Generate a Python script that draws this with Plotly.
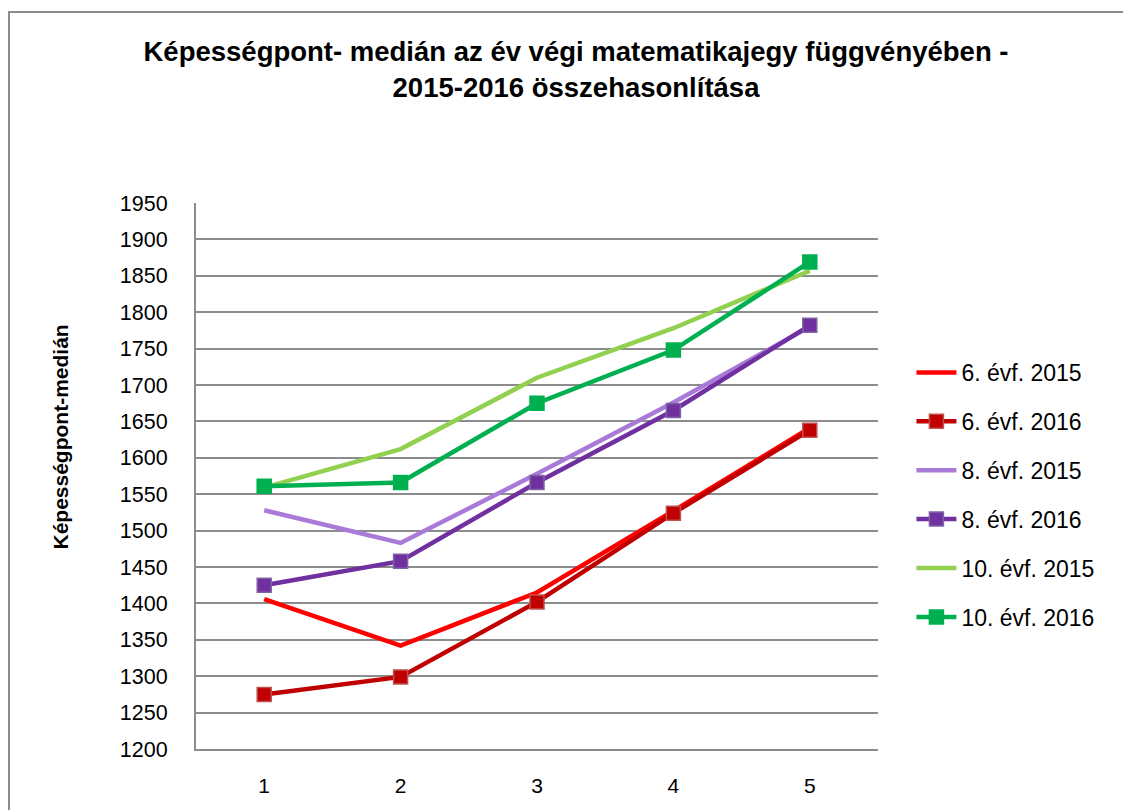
import plotly.graph_objects as go

# Képességpont-medián az év végi matematikajegy függvényében
grades = ['1', '2', '3', '4', '5']

evf6_2015 = [1406, 1342, 1415, 1527, 1641]
evf6_2016 = [1275, 1299, 1402, 1524, 1638]
evf8_2015 = [1528, 1483, 1578, 1676, 1780]
evf8_2016 = [1425, 1458, 1566, 1665, 1782]
evf10_2015 = [1559, 1612, 1710, 1778, 1857]
evf10_2016 = [1561, 1566, 1675, 1748, 1869]

y_ticks = list(range(1200, 1951, 50))

FONT = 'Liberation Sans'


def line(name, y, color, marker=None, border=None, group=''):
    tr = go.Scatter(
        name=name, x=grades, y=y,
        mode='lines+markers' if marker else 'lines',
        line=dict(color=color, width=4.5),
        legendgroup=group,
    )
    if marker:
        tr.marker = dict(symbol='square', size=14, color=marker,
                         line=dict(color=border or marker, width=1.5))
    return tr


fig = go.Figure(data=[
    line('6. évf. 2015', evf6_2015, '#FF0000', group='a'),
    line('6. évf. 2016', evf6_2016, '#C00000', '#C00000', '#C0504D', group='b'),
    line('8. évf. 2015', evf8_2015, '#A97AD8', group='c'),
    line('8. évf. 2016', evf8_2016, '#7030A0', '#7030A0', '#8064A2', group='d'),
    line('10. évf. 2015', evf10_2015, '#92D050', group='e'),
    line('10. évf. 2016', evf10_2016, '#00B050', '#00B050', group='f'),
])

# outer chart frame
fig.add_shape(type='rect', xref='paper', yref='paper',
              x0=-0.2742, x1=1.40, y0=-0.15, y1=1.350,
              line=dict(color='#8C8C8C', width=2), layer='below')

# y axis title
fig.add_annotation(text='<b>Képességpont-medián</b>', textangle=-90,
                   xref='paper', yref='paper', x=-0.199, y=0.571,
                   xanchor='center', yanchor='middle',
                   showarrow=False, font=dict(size=21, color='black', family=FONT))

fig.update_xaxes(
    type='category', range=[-0.5, 4.5],
    showline=True, linecolor='#8C8C8C', linewidth=2,
    showgrid=False, ticks='', ticklabelstandoff=17,
    tickfont=dict(size=21, color='black', family=FONT))
fig.update_yaxes(
    range=[1200, 1950], tickvals=y_ticks,
    showline=True, linecolor='#8C8C8C', linewidth=2,
    showgrid=True, gridcolor='#8C8C8C', gridwidth=1.5,
    zeroline=False, ticks='', ticklabelstandoff=22,
    tickfont=dict(size=21.5, color='black', family=FONT))

fig.update_layout(
    width=1131, height=810,
    margin=dict(l=188, r=261, t=195, b=69),
    paper_bgcolor='white', plot_bgcolor='white',
    font=dict(family=FONT, color='black'),
    title=dict(
        text='<b>Képességpont- medián az év végi matematikajegy függvényében -<br>'
             '2015-2016 összehasonlítása</b>',
        x=568 / 1131, xanchor='center', xref='container',
        y=1 - 53 / 810, yanchor='top', yref='container',
        font=dict(size=27.5, color='black', family=FONT)),
    legend=dict(
        x=1.049, xanchor='left', y=0.729, yanchor='top',
        font=dict(size=23, color='black', family=FONT),
        tracegroupgap=16, itemwidth=40, bgcolor='rgba(0,0,0,0)'),
    showlegend=True,
)

fig.write_html('out.html')
